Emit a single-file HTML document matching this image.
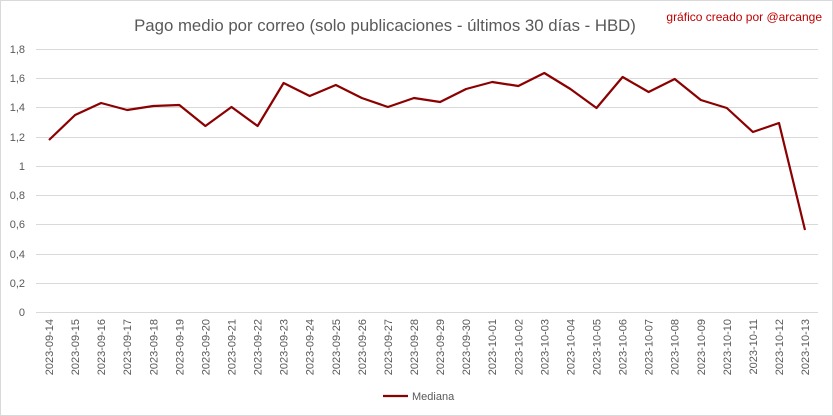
<!DOCTYPE html>
<html><head><meta charset="utf-8"><style>
html,body{margin:0;padding:0;background:#fff;}
svg{display:block;font-family:"Liberation Sans",Arial,sans-serif;}
</style></head><body>
<svg width="833" height="416" viewBox="0 0 833 416" xmlns="http://www.w3.org/2000/svg">
<rect x="0.5" y="0.5" width="832" height="415" fill="#fff" stroke="#d9d9d9"/>
<text x="385" y="31" font-size="16.8" fill="#595959" text-anchor="middle">Pago medio por correo (solo publicaciones - últimos 30 días - HBD)</text>
<text x="822" y="21" font-size="12" fill="#c00000" text-anchor="end">gráfico creado por @arcange</text>
<g stroke="#d9d9d9" stroke-width="1">
<line x1="36" x2="818" y1="49.5" y2="49.5"/>
<line x1="36" x2="818" y1="78.5" y2="78.5"/>
<line x1="36" x2="818" y1="107.5" y2="107.5"/>
<line x1="36" x2="818" y1="137.5" y2="137.5"/>
<line x1="36" x2="818" y1="166.5" y2="166.5"/>
<line x1="36" x2="818" y1="195.5" y2="195.5"/>
<line x1="36" x2="818" y1="224.5" y2="224.5"/>
<line x1="36" x2="818" y1="254.5" y2="254.5"/>
<line x1="36" x2="818" y1="283.5" y2="283.5"/>
<line x1="36" x2="818" y1="312.5" y2="312.5"/>
</g>
<g font-size="11" fill="#595959" text-anchor="end">
<text x="25" y="53">1,8</text><text x="25" y="82">1,6</text><text x="25" y="111">1,4</text>
<text x="25" y="141">1,2</text><text x="25" y="170">1</text><text x="25" y="199">0,8</text>
<text x="25" y="228">0,6</text><text x="25" y="258">0,4</text><text x="25" y="287">0,2</text>
<text x="25" y="316">0</text>
</g>
<g font-size="11" fill="#595959" text-anchor="end">
<text transform="translate(53,319) rotate(-90)">2023-09-14</text>
<text transform="translate(79.1,319) rotate(-90)">2023-09-15</text>
<text transform="translate(105.1,319) rotate(-90)">2023-09-16</text>
<text transform="translate(131.2,319) rotate(-90)">2023-09-17</text>
<text transform="translate(157.3,319) rotate(-90)">2023-09-18</text>
<text transform="translate(183.3,319) rotate(-90)">2023-09-19</text>
<text transform="translate(209.4,319) rotate(-90)">2023-09-20</text>
<text transform="translate(235.5,319) rotate(-90)">2023-09-21</text>
<text transform="translate(261.6,319) rotate(-90)">2023-09-22</text>
<text transform="translate(287.6,319) rotate(-90)">2023-09-23</text>
<text transform="translate(313.7,319) rotate(-90)">2023-09-24</text>
<text transform="translate(339.8,319) rotate(-90)">2023-09-25</text>
<text transform="translate(365.8,319) rotate(-90)">2023-09-26</text>
<text transform="translate(391.9,319) rotate(-90)">2023-09-27</text>
<text transform="translate(418,319) rotate(-90)">2023-09-28</text>
<text transform="translate(444.1,319) rotate(-90)">2023-09-29</text>
<text transform="translate(470.1,319) rotate(-90)">2023-09-30</text>
<text transform="translate(496.2,319) rotate(-90)">2023-10-01</text>
<text transform="translate(522.3,319) rotate(-90)">2023-10-02</text>
<text transform="translate(548.3,319) rotate(-90)">2023-10-03</text>
<text transform="translate(574.4,319) rotate(-90)">2023-10-04</text>
<text transform="translate(600.5,319) rotate(-90)">2023-10-05</text>
<text transform="translate(626.6,319) rotate(-90)">2023-10-06</text>
<text transform="translate(652.6,319) rotate(-90)">2023-10-07</text>
<text transform="translate(678.7,319) rotate(-90)">2023-10-08</text>
<text transform="translate(704.8,319) rotate(-90)">2023-10-09</text>
<text transform="translate(730.8,319) rotate(-90)">2023-10-10</text>
<text transform="translate(756.9,319) rotate(-90)">2023-10-11</text>
<text transform="translate(783,319) rotate(-90)">2023-10-12</text>
<text transform="translate(809,319) rotate(-90)">2023-10-13</text>
</g>
<polyline fill="none" stroke="#8b0000" stroke-width="2.2" stroke-linejoin="round" points="49,140 75.1,115 101.1,103 127.2,110 153.3,106 179.3,105 205.4,126 231.5,107 257.6,126 283.6,83 309.7,96 335.8,85 361.8,98 387.9,107 414,98 440.1,102 466.1,89 492.2,82 518.3,86 544.3,73 570.4,89 596.5,108 622.6,77 648.6,92 674.7,79 700.8,100 726.8,108 752.9,132 779,123 805,230"/>
<line x1="383" x2="408" y1="396" y2="396" stroke="#8b0000" stroke-width="2.2"/>
<text x="412" y="400" font-size="11" fill="#595959">Mediana</text>
</svg>
</body></html>
